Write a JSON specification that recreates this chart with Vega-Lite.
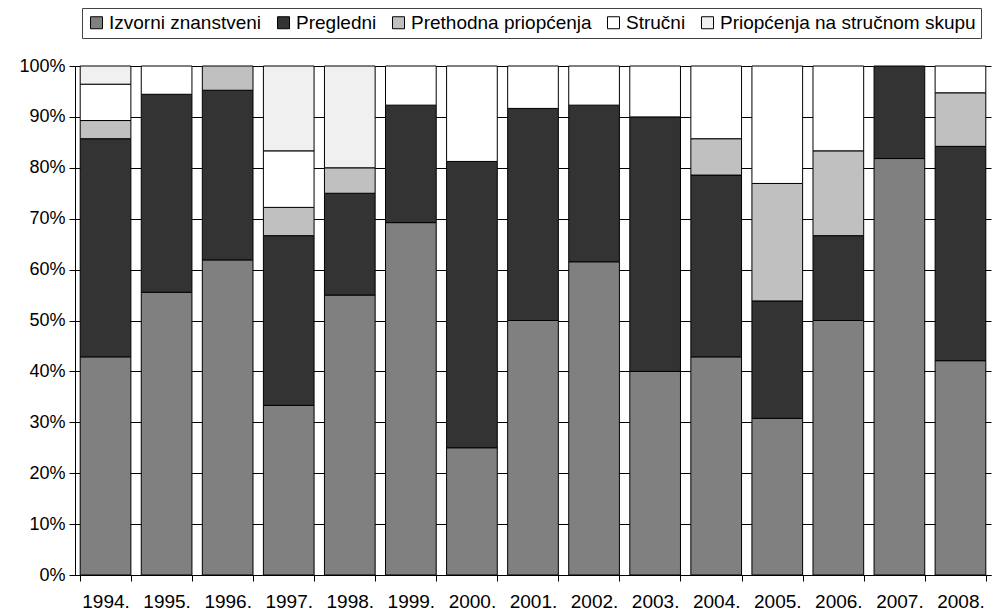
{
  "$schema": "https://vega.github.io/schema/vega-lite/v6.json",
  "width": 916,
  "height": 509,
  "autosize": {"type": "none"},
  "padding": {"left": 75, "top": 66, "right": 2, "bottom": 37},
  "background": "white",
  "config": {
    "font": "Liberation Sans",
    "view": {"stroke": null},
    "axis": {"labelFont": "Liberation Sans", "labelFontSize": 18, "labelColor": "black", "domainColor": "black", "tickColor": "black", "domainWidth": 1, "tickWidth": 1}
  },
  "datasets": {
    "cats": [
      {"cat": "Izvorni znanstveni", "rank": 1},
      {"cat": "Pregledni", "rank": 2},
      {"cat": "Prethodna priopćenja", "rank": 3},
      {"cat": "Stručni", "rank": 4},
      {"cat": "Priopćenja na stručnom skupu", "rank": 5}
    ],
    "pubs": [
      {"year": "1994.", "cat": "Izvorni znanstveni", "n": 12},
      {"year": "1994.", "cat": "Pregledni", "n": 12},
      {"year": "1994.", "cat": "Prethodna priopćenja", "n": 1},
      {"year": "1994.", "cat": "Stručni", "n": 2},
      {"year": "1994.", "cat": "Priopćenja na stručnom skupu", "n": 1},
      {"year": "1995.", "cat": "Izvorni znanstveni", "n": 10},
      {"year": "1995.", "cat": "Pregledni", "n": 7},
      {"year": "1995.", "cat": "Stručni", "n": 1},
      {"year": "1996.", "cat": "Izvorni znanstveni", "n": 13},
      {"year": "1996.", "cat": "Pregledni", "n": 7},
      {"year": "1996.", "cat": "Prethodna priopćenja", "n": 1},
      {"year": "1997.", "cat": "Izvorni znanstveni", "n": 6},
      {"year": "1997.", "cat": "Pregledni", "n": 6},
      {"year": "1997.", "cat": "Prethodna priopćenja", "n": 1},
      {"year": "1997.", "cat": "Stručni", "n": 2},
      {"year": "1997.", "cat": "Priopćenja na stručnom skupu", "n": 3},
      {"year": "1998.", "cat": "Izvorni znanstveni", "n": 11},
      {"year": "1998.", "cat": "Pregledni", "n": 4},
      {"year": "1998.", "cat": "Prethodna priopćenja", "n": 1},
      {"year": "1998.", "cat": "Priopćenja na stručnom skupu", "n": 4},
      {"year": "1999.", "cat": "Izvorni znanstveni", "n": 9},
      {"year": "1999.", "cat": "Pregledni", "n": 3},
      {"year": "1999.", "cat": "Stručni", "n": 1},
      {"year": "2000.", "cat": "Izvorni znanstveni", "n": 4},
      {"year": "2000.", "cat": "Pregledni", "n": 9},
      {"year": "2000.", "cat": "Stručni", "n": 3},
      {"year": "2001.", "cat": "Izvorni znanstveni", "n": 6},
      {"year": "2001.", "cat": "Pregledni", "n": 5},
      {"year": "2001.", "cat": "Stručni", "n": 1},
      {"year": "2002.", "cat": "Izvorni znanstveni", "n": 8},
      {"year": "2002.", "cat": "Pregledni", "n": 4},
      {"year": "2002.", "cat": "Stručni", "n": 1},
      {"year": "2003.", "cat": "Izvorni znanstveni", "n": 4},
      {"year": "2003.", "cat": "Pregledni", "n": 5},
      {"year": "2003.", "cat": "Stručni", "n": 1},
      {"year": "2004.", "cat": "Izvorni znanstveni", "n": 6},
      {"year": "2004.", "cat": "Pregledni", "n": 5},
      {"year": "2004.", "cat": "Prethodna priopćenja", "n": 1},
      {"year": "2004.", "cat": "Stručni", "n": 2},
      {"year": "2005.", "cat": "Izvorni znanstveni", "n": 4},
      {"year": "2005.", "cat": "Pregledni", "n": 3},
      {"year": "2005.", "cat": "Prethodna priopćenja", "n": 3},
      {"year": "2005.", "cat": "Stručni", "n": 3},
      {"year": "2006.", "cat": "Izvorni znanstveni", "n": 3},
      {"year": "2006.", "cat": "Pregledni", "n": 1},
      {"year": "2006.", "cat": "Prethodna priopćenja", "n": 1},
      {"year": "2006.", "cat": "Stručni", "n": 1},
      {"year": "2007.", "cat": "Izvorni znanstveni", "n": 9},
      {"year": "2007.", "cat": "Pregledni", "n": 2},
      {"year": "2008.", "cat": "Izvorni znanstveni", "n": 8},
      {"year": "2008.", "cat": "Pregledni", "n": 8},
      {"year": "2008.", "cat": "Prethodna priopćenja", "n": 2},
      {"year": "2008.", "cat": "Stručni", "n": 1}
    ]
  },
  "data": {"name": "pubs"},
  "transform": [
    {"lookup": "cat", "from": {"data": {"name": "cats"}, "key": "cat", "fields": ["rank"]}}
  ],
  "mark": {"type": "bar", "stroke": "black", "strokeWidth": 1},
  "encoding": {
    "x": {
      "field": "year", "type": "ordinal",
      "scale": {"paddingInner": 0.17, "paddingOuter": 0.085},
      "axis": {"title": null, "labelAngle": 0, "tickBand": "extent", "tickSize": 6, "labelPadding": 11, "labelFontSize": 19}
    },
    "y": {
      "field": "n", "type": "quantitative", "stack": "normalize",
      "scale": {"domain": [0, 1]},
      "axis": {"title": null, "format": ".0%", "values": [0, 0.1, 0.2, 0.3, 0.4, 0.5, 0.6, 0.7, 0.8, 0.9, 1], "grid": true, "gridColor": "black", "gridOpacity": 1, "tickSize": 6, "labelPadding": 4}
    },
    "color": {
      "field": "cat", "type": "nominal",
      "scale": {
        "domain": ["Izvorni znanstveni", "Pregledni", "Prethodna priopćenja", "Stručni", "Priopćenja na stručnom skupu"],
        "range": ["#808080", "#333333", "#c0c0c0", "#ffffff", "#f0f0f0"]
      },
      "legend": {
        "title": null, "orient": "none", "legendX": 7, "legendY": -58,
        "direction": "horizontal", "columns": 5, "symbolType": "square", "symbolSize": 144,
        "symbolStrokeColor": "black", "symbolStrokeWidth": 1, "labelFontSize": 19, "labelColor": "black",
        "labelFont": "Liberation Sans", "labelLimit": 0, "strokeColor": "#444444", "padding": 5, "columnPadding": 12, "labelOffset": 3
      }
    },
    "order": {"field": "rank", "type": "quantitative", "sort": "ascending"}
  }
}
